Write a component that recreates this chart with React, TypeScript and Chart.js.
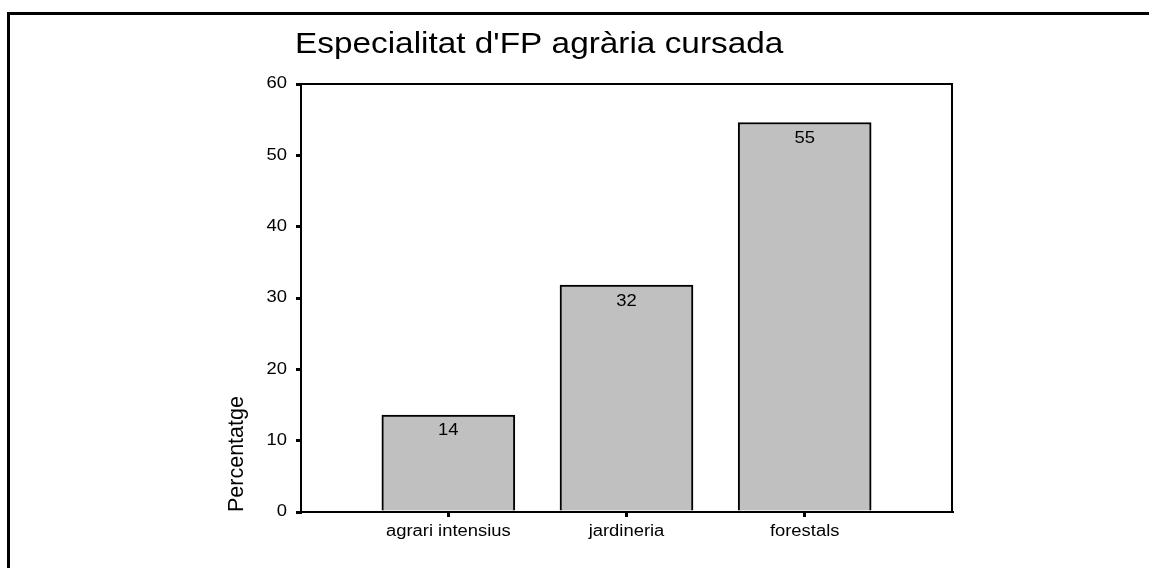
import React, { useEffect, useRef } from 'react';
import { Chart, registerables } from 'chart.js';

Chart.register(...registerables);

const categories = ['agrari intensius', 'jardineria', 'forestals'];
const percentages = [13.6, 31.8, 54.6];
const yTickValues = [0, 10, 20, 30, 40, 50, 60];
const chartTitle = "Especialitat d'FP agrària cursada";
const yAxisTitle = 'Percentatge';

const FONT = "'Liberation Sans', Arial, Helvetica, sans-serif";
const TEXT_STRETCH = 1.15;

function installStretch(ctx: any, sx: number) {
  if (ctx.__stretched) return;
  const orig = ctx.fillText;
  ctx.fillText = function (text: string, x: number, y: number, maxWidth?: number) {
    const t = this.getTransform();
    if (Math.abs(t.b) > 1e-6 || Math.abs(t.c) > 1e-6) {
      if (maxWidth === undefined) return orig.call(this, text, x, y);
      return orig.call(this, text, x, y, maxWidth);
    }
    this.save();
    this.translate(x, y);
    this.scale(sx, 1);
    if (maxWidth === undefined) orig.call(this, text, 0, 0);
    else orig.call(this, text, 0, 0, maxWidth / sx);
    this.restore();
  };
  ctx.__stretched = true;
}

const decorPlugin = {
  id: 'decor',
  beforeDraw(chart: any) {
    const ctx = chart.ctx;
    installStretch(ctx, TEXT_STRETCH);
    ctx.save();
    ctx.fillStyle = '#ffffff';
    ctx.fillRect(0, 0, chart.width, chart.height);
    ctx.fillStyle = '#000000';
    ctx.fillRect(7, 12, 3, chart.height - 12);
    ctx.fillRect(7, 12, chart.width - 7, 3);
    ctx.restore();
  },
  afterDraw(chart: any) {
    const { ctx, chartArea } = chart;
    ctx.save();
    ctx.strokeStyle = '#000000';
    ctx.lineWidth = 2;
    ctx.strokeRect(
      chartArea.left,
      chartArea.top,
      chartArea.right - chartArea.left,
      chartArea.bottom - chartArea.top
    );
    ctx.restore();

    ctx.save();
    ctx.fillStyle = '#000000';
    ctx.font = `29px ${FONT}`;
    ctx.textAlign = 'left';
    ctx.textBaseline = 'alphabetic';
    ctx.fillText(chartTitle, chartArea.left - 6, chartArea.top - 31);
    ctx.restore();

    const meta = chart.getDatasetMeta(0);
    ctx.save();
    ctx.font = `16px ${FONT}`;
    ctx.textAlign = 'center';
    ctx.textBaseline = 'middle';
    ctx.fillStyle = '#000000';
    meta.data.forEach((bar: any, i: number) => {
      ctx.fillText(String(Math.round(percentages[i])), bar.x, bar.y + 16);
    });
    ctx.restore();
  },
};

export default function App() {
  const canvasRef = useRef<HTMLCanvasElement | null>(null);

  useEffect(() => {
    if (!canvasRef.current) return;
    const chart = new Chart(canvasRef.current, {
      type: 'bar',
      data: {
        datasets: [
          {
            data: categories.map((c, i) => ({ x: i, y: percentages[i] })),
            backgroundColor: '#c0c0c0',
            borderColor: '#000000',
            borderWidth: 2,
            barThickness: 133,
          },
        ],
      },
      options: {
        responsive: false,
        animation: false,
        layout: { padding: { left: 224, right: 197, top: 84, bottom: 16 } },
        plugins: {
          legend: { display: false },
          tooltip: { enabled: false },
          title: { display: false },
        },
        scales: {
          x: {
            type: 'linear',
            offset: false,
            min: -0.827,
            max: 2.827,
            afterBuildTicks: (scale: any) => {
              scale.ticks = categories.map((c, i) => ({ value: i }));
            },
            afterFit: (scale: any) => {
              scale.height = 40;
            },
            ticks: {
              color: '#000000',
              font: { family: FONT, size: 16 },
              padding: 5,
              maxRotation: 0,
              autoSkip: false,
              callback: (v: any) => categories[Math.round(Number(v))] ?? '',
            },
            grid: {
              offset: false,
              drawOnChartArea: false,
              drawTicks: true,
              tickLength: 5,
              lineWidth: 3,
              color: '#000000',
            },
            border: { display: true, color: '#000000', width: 2 },
          },
          y: {
            type: 'linear',
            min: 0,
            max: 60,
            afterBuildTicks: (scale: any) => {
              scale.ticks = yTickValues.map((v) => ({ value: v }));
            },
            afterFit: (scale: any) => {
              scale.width = 77;
            },
            ticks: {
              color: '#000000',
              font: { family: FONT, size: 16 },
              padding: 9,
            },
            grid: {
              drawOnChartArea: false,
              drawTicks: true,
              tickLength: 5,
              lineWidth: 3,
              color: '#000000',
            },
            border: { display: true, color: '#000000', width: 2 },
            title: {
              display: true,
              text: yAxisTitle,
              align: 'start',
              color: '#000000',
              font: { family: FONT, size: 21.5 },
              padding: 0,
            },
          },
        },
      },
      plugins: [decorPlugin],
    } as any);
    return () => chart.destroy();
  }, []);

  return (
    <div style={{ position: 'absolute', left: 0, top: 0, width: 1149, height: 568, background: '#fff' }}>
      <canvas ref={canvasRef} width={1149} height={568} />
    </div>
  );
}
